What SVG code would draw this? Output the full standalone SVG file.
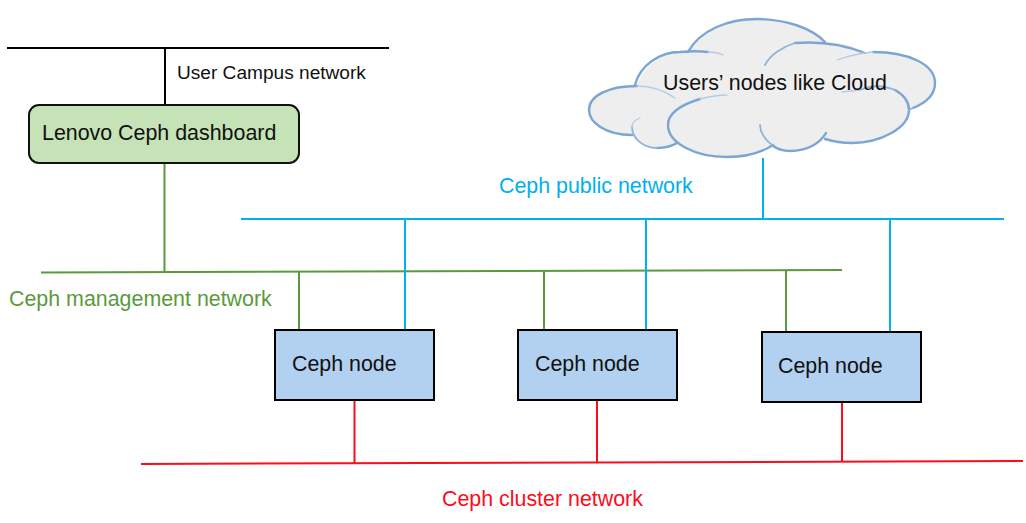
<svg xmlns="http://www.w3.org/2000/svg" width="1026" height="523" viewBox="0 0 1026 523">
<style>
text{font-family:"Liberation Sans",Arial,sans-serif;font-size:21.4px;fill:#111}
.blue{stroke:#00b0f0}.green{stroke:#5b9a3c}.red{stroke:#fb0d1b}.blk{stroke:#000}
#connectors line{stroke-width:2;fill:none}
.node{fill:#b2d0ef;stroke:#000;stroke-width:2}
.cl{fill:none;stroke:#7ba6d3;stroke-width:2.4;stroke-linecap:round}
.cf{fill:none;stroke:#b4cce6;stroke-width:1.3;stroke-linecap:round}
.cm{fill:none;stroke:#8fb4da;stroke-width:1.8;stroke-linecap:round}
</style>
<g id="connectors">
<line class="blk" x1="7" y1="48" x2="389" y2="48"/>
<line class="blk" x1="165" y1="48" x2="165" y2="105"/>
<line class="green" x1="164.500" y1="162" x2="164.500" y2="272"/>
<line class="green" x1="41" y1="272.500" x2="842" y2="270"/>
<line class="green" x1="299" y1="272" x2="299" y2="330"/>
<line class="green" x1="544" y1="271" x2="544" y2="330"/>
<line class="green" x1="786" y1="270" x2="786" y2="332"/>
<line class="blue" x1="241" y1="219" x2="1004" y2="219"/>
<line class="blue" x1="763" y1="158" x2="763" y2="219"/>
<line class="blue" x1="405" y1="219" x2="405" y2="330"/>
<line class="blue" x1="646" y1="219" x2="646" y2="330"/>
<line class="blue" x1="890" y1="219" x2="890" y2="332"/>
<line class="red" x1="141" y1="464" x2="1023" y2="461"/>
<line class="red" x1="354.500" y1="400" x2="354.500" y2="463"/>
<line class="red" x1="597" y1="400" x2="597" y2="463"/>
<line class="red" x1="842" y1="402" x2="842" y2="462"/>
</g>
<g id="cloud">
<path d="M688 52C700 30 728 19 757 19C785 19 812 28 825 42C840 42 855 46 865 53C900 50 935 62 935 83C935 95 925 104 909 110C905 128 880 143 852 143C842 143 832 141 825 139C815 148 802 151 790 151C782 151 772 148 767 146C755 153 742 157 727 157C708 157 690 150 677 143C668 148 662 148 657 148C642 148 632 138 632 135C605 135 589 122 589 110C589 95 610 86 637 86C642 68 660 52 688 52Z" fill="#eeeeee"/>
<path class="cl" d="M688 52C700 30 728 19 757 19C785 19 812 28 825 42M795 43C820 41 845 45 865 53M873 52C910 52 935 65 935 83C935 93 928 102 913 108M895 90C904 95 909 102 909 110C909 128 880 143 852 143C842 143 835 142 825 139M772 145C777 149 783 151 790 151C808 151 820 143 826 133M700 99C680 105 668 114 668 125C668 143 695 157 727 157C745 157 762 152 773 145M657 148C665 148 672 146 677 143M637 86C610 86 589 95 589 110C589 122 605 135 632 135M635 85C640 65 660 52 680 52C690 51 700 51 708 52"/>
<path class="cm" d="M765 65C770 55 782 47 795 43M860 90C873 84 885 86 895 90M913 108 909 110M760 125C760 132 765 140 772 145M632 127C632 138 643 148 657 148"/>
<path class="cf" d="M837 60C848 56 860 53 873 52M727 95C718 95 708 97 700 99M640 118C634 120 632 124 632 127M675 98C665 91 652 86 637 86M708 52C714 52 719 53 723 55M842 92 860 90"/>
<text id="cloud-label" x="663" y="90">Users’ nodes like Cloud</text>
</g>
<g id="dashboard">
<rect x="29" y="105" width="270" height="58" rx="10" ry="10" fill="#c5e3b6" stroke="#111" stroke-width="2"/>
<text x="42" y="140">Lenovo Ceph dashboard</text>
</g>
<g id="node1"><rect class="node" x="275" y="330" width="159" height="70"/><text x="292" y="371">Ceph node</text></g>
<g id="node2"><rect class="node" x="518" y="330" width="159" height="70"/><text x="535" y="371">Ceph node</text></g>
<g id="node3"><rect class="node" x="762" y="332" width="159" height="70"/><text x="778" y="373">Ceph node</text></g>
<text x="177" y="79" style="font-size:19.100px">User Campus network</text>
<text x="499" y="193" style="fill:#00b0f0">Ceph public network</text>
<text x="9" y="306" style="fill:#5b9a3c">Ceph management network</text>
<text x="442" y="506" style="fill:#fb0d1b">Ceph cluster network</text>
</svg>
